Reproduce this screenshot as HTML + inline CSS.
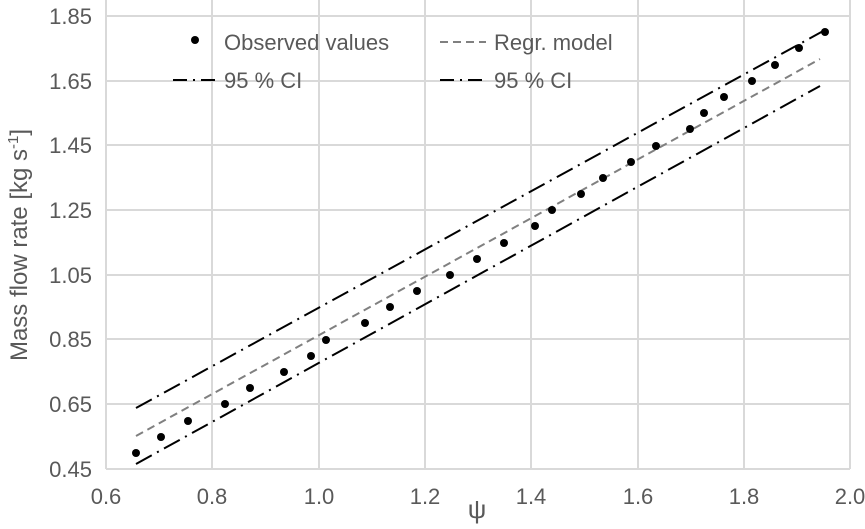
<!DOCTYPE html><html><head><style>body{margin:0;background:#fff}</style></head><body>
<svg width="865" height="524" xmlns="http://www.w3.org/2000/svg" font-family="Liberation Sans, sans-serif" fill="#595959">
<g stroke="#d9d9d9" stroke-width="2">
<line x1="106" y1="16" x2="850" y2="16"/><line x1="106" y1="81" x2="850" y2="81"/><line x1="106" y1="145" x2="850" y2="145"/><line x1="106" y1="210" x2="850" y2="210"/><line x1="106" y1="275" x2="850" y2="275"/><line x1="106" y1="339" x2="850" y2="339"/><line x1="106" y1="404" x2="850" y2="404"/>
<line x1="212" y1="0" x2="212" y2="469"/><line x1="319" y1="0" x2="319" y2="469"/><line x1="425" y1="0" x2="425" y2="469"/><line x1="531" y1="0" x2="531" y2="469"/><line x1="638" y1="0" x2="638" y2="469"/><line x1="744" y1="0" x2="744" y2="469"/><line x1="850" y1="0" x2="850" y2="469"/>
<line x1="106" y1="0" x2="106" y2="469"/><line x1="106" y1="469" x2="850" y2="469"/>
</g>
<g font-size="22" text-anchor="end">
<text x="92" y="24">1.85</text><text x="92" y="89">1.65</text><text x="92" y="153">1.45</text><text x="92" y="218">1.25</text><text x="92" y="283">1.05</text><text x="92" y="347">0.85</text><text x="92" y="412">0.65</text><text x="92" y="477">0.45</text>
</g>
<g font-size="22" text-anchor="middle">
<text x="106" y="504">0.6</text><text x="212" y="504">0.8</text><text x="319" y="504">1.0</text><text x="425" y="504">1.2</text><text x="531" y="504">1.4</text><text x="638" y="504">1.6</text><text x="744" y="504">1.8</text><text x="850" y="504">2.0</text>
<text x="477" y="518" font-size="26">ψ</text>
</g>
<text transform="translate(27,245) rotate(-90)" font-size="24" text-anchor="middle">Mass flow rate [kg s<tspan dy="-9" font-size="15">-1</tspan><tspan dy="9">]</tspan></text>
<g fill="none" stroke-width="2">
<line x1="136" y1="436" x2="820" y2="59" stroke="#808080" stroke-dasharray="8,5"/>
<line x1="136" y1="408" x2="825" y2="30" stroke="#000" stroke-dasharray="18,6,2,6"/>
<line x1="136" y1="464" x2="820" y2="86" stroke="#000" stroke-dasharray="18,6,2,6"/>
<line x1="440" y1="42" x2="486" y2="42" stroke="#808080" stroke-dasharray="8,5"/>
<line x1="173" y1="80" x2="215" y2="80" stroke="#000" stroke-dasharray="14,6,2,6"/>
<line x1="440" y1="80" x2="486" y2="80" stroke="#000" stroke-dasharray="14,6,2,6"/>
</g>
<g fill="#000">
<circle cx="195" cy="40" r="4"/>
<circle cx="136" cy="453" r="4"/><circle cx="161" cy="437" r="4"/><circle cx="188" cy="421" r="4"/><circle cx="225" cy="404" r="4"/><circle cx="250" cy="388" r="4"/><circle cx="284" cy="372" r="4"/><circle cx="311" cy="356" r="4"/><circle cx="326" cy="340" r="4"/><circle cx="365" cy="323" r="4"/><circle cx="390" cy="307" r="4"/><circle cx="417" cy="291" r="4"/><circle cx="450" cy="275" r="4"/><circle cx="477" cy="259" r="4"/><circle cx="504" cy="243" r="4"/><circle cx="535" cy="226" r="4"/><circle cx="552" cy="210" r="4"/><circle cx="581" cy="194" r="4"/><circle cx="603" cy="178" r="4"/><circle cx="631" cy="162" r="4"/><circle cx="656" cy="146" r="4"/><circle cx="690" cy="129" r="4"/><circle cx="704" cy="113" r="4"/><circle cx="724" cy="97" r="4"/><circle cx="752" cy="81" r="4"/><circle cx="775" cy="65" r="4"/><circle cx="799" cy="48" r="4"/><circle cx="825" cy="32" r="4"/>
</g>
<g font-size="22">
<text x="224" y="50">Observed values</text><text x="494" y="50">Regr. model</text>
<text x="224" y="88">95 % CI</text><text x="494" y="88">95 % CI</text>
</g>
</svg></body></html>
